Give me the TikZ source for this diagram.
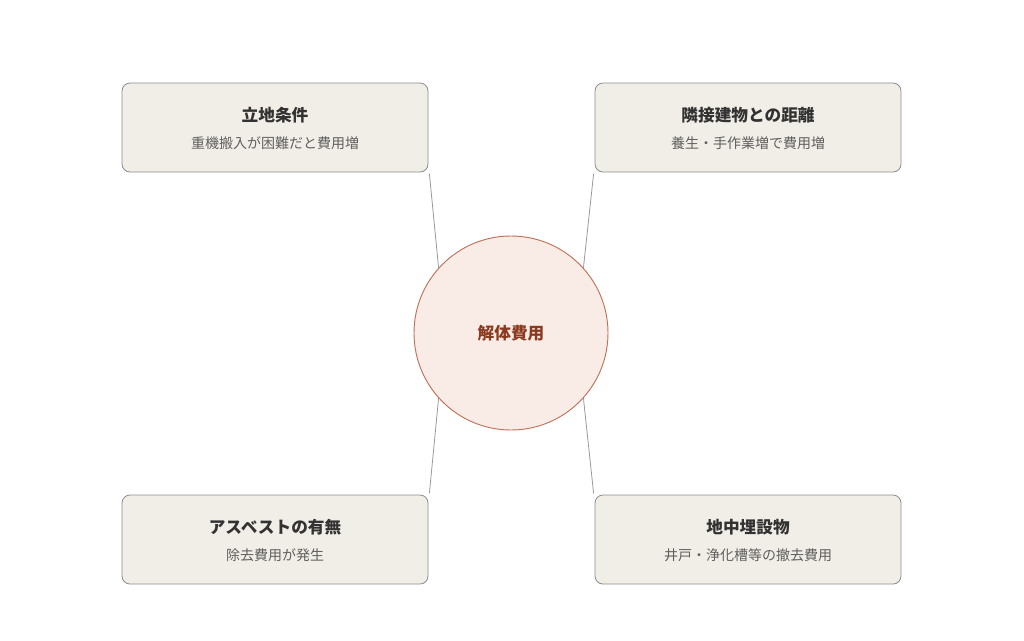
\documentclass[tikz,border=0pt]{standalone}
\usepackage{fontspec}
\setmainfont{Noto Sans CJK JP}
\begin{document}
\begin{tikzpicture}[x=0.75pt,y=-0.75pt,
 box/.style={draw=black!45,fill={rgb,255:red,241;green,238;blue,231},rounded corners=6pt,minimum width=306*0.75pt,minimum height=89*0.75pt,line width=0.6pt},
 ttl/.style={font=\fontsize{12.5}{14}\selectfont\bfseries,text={rgb,255:red,50;green,50;blue,50}},
 sub/.style={font=\fontsize{10.5}{12}\selectfont,text={rgb,255:red,95;green,95;blue,95}},
 con/.style={draw=black!40,line width=0.6pt}]
\useasboundingbox (0,0) rectangle (1024,640);
\node[box] (tl) at (275,127.5) {};
\node[box] (tr) at (748,127.5) {};
\node[box] (bl) at (275,539.5) {};
\node[box] (br) at (748,539.5) {};
\node[ttl] (tlt) at (275,115) {立地条件};
\node[sub] (tls) at (275,143) {重機搬入が困難だと費用増};
\node[ttl] (trt) at (748,115) {隣接建物との距離};
\node[sub] (trs) at (748,143) {養生・手作業増で費用増};
\node[ttl] (blt) at (275,527) {アスベストの有無};
\node[sub] (bls) at (275,555) {除去費用が発生};
\node[ttl] (brt) at (748,527) {地中埋設物};
\node[sub] (brs) at (748,555) {井戸・浄化槽等の撤去費用};
\node[circle,draw={rgb,255:red,192;green,113;blue,90},fill={rgb,255:red,249;green,235;blue,230},minimum size=194*0.75pt,line width=0.7pt,inner sep=0pt,font=\fontsize{12.5}{14}\selectfont\bfseries,text={rgb,255:red,139;green,58;blue,31}] (c) at (511,333) {解体費用};
\draw[con] ([xshift=0.75pt,yshift=-1pt]tl.south east) -- (c.138);
\draw[con] ([xshift=-0.75pt,yshift=-1pt]tr.south west) -- (c.42);
\draw[con] ([xshift=0.75pt,yshift=1pt]bl.north east) -- (c.222);
\draw[con] ([xshift=-0.75pt,yshift=1pt]br.north west) -- (c.318);
\end{tikzpicture}
\end{document}
